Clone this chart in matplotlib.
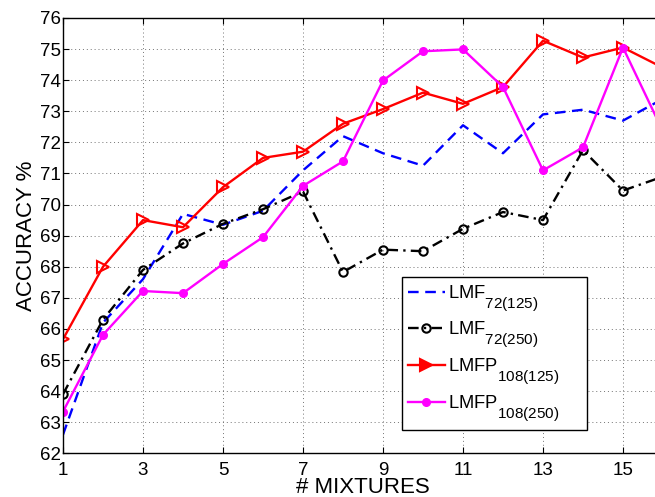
import matplotlib
matplotlib.use("Agg")
import matplotlib.pyplot as plt

plt.rcParams['font.family'] = ['Liberation Sans', 'DejaVu Sans']
plt.rcParams['mathtext.fontset'] = 'custom'
plt.rcParams['mathtext.rm'] = 'Liberation Sans'
plt.rcParams['mathtext.it'] = 'Liberation Sans'
plt.rcParams['mathtext.bf'] = 'Liberation Sans'

# larger, lower subscripts for the legend labels
try:
    import matplotlib._mathtext as _mt
    _mt.SHRINK_FACTOR = 0.83
    _mt.FontConstantsBase.sub1 = 1.05
except Exception:
    pass

mixtures = list(range(1, 17))

lmf_72_125 = [62.6, 66.2, 67.6, 69.7, 69.35, 69.8, 71.1, 72.2, 71.65, 71.25,
              72.55, 71.65, 72.9, 73.05, 72.7, 73.4]
lmf_72_250 = [63.9, 66.3, 67.9, 68.75, 69.38, 69.85, 70.42, 67.83, 68.55, 68.5,
              69.22, 69.76, 69.5, 71.75, 70.45, 70.9]
lmfp_108_125 = [65.67, 68.0, 69.5, 69.27, 70.56, 71.5, 71.7, 72.6, 73.07, 73.6,
                73.24, 73.78, 75.27, 74.73, 75.05, 74.4]
lmfp_108_250 = [63.34, 65.81, 67.22, 67.15, 68.09, 68.95, 70.6, 71.39, 73.99, 74.93,
                74.99, 73.78, 71.1, 71.84, 75.05, 72.35]

labels = [r'$\mathregular{LMF}_{\mathregular{72(125)}}$',
          r'$\mathregular{LMF}_{\mathregular{72(250)}}$',
          r'$\mathregular{LMFP}_{\mathregular{108(125)}}$',
          r'$\mathregular{LMFP}_{\mathregular{108(250)}}$']

x_ticks = [1, 3, 5, 7, 9, 11, 13, 15]
y_ticks = list(range(62, 77))

fig = plt.figure(figsize=(6.55, 4.97), dpi=100)
# axes run past the right edge of the figure, so the last column is cut off
ax = fig.add_axes([63 / 655, 43.7 / 497, 600 / 655, 435.3 / 497])

ax.plot(mixtures, lmf_72_125, color='#0000ff', linestyle=(0, (4.5, 2.8)),
        linewidth=1.7, label=labels[0])
ax.plot(mixtures, lmf_72_250, color='black', linestyle=(0, (4.5, 2.2, 1, 2.2)),
        linewidth=1.7, marker='o', markersize=6, markerfacecolor='none',
        markeredgewidth=1.5, label=labels[1])
ax.plot(mixtures, lmfp_108_125, color='#ff0000', linestyle='-', linewidth=1.7,
        marker='>', markersize=8, markerfacecolor='none', markeredgewidth=1.5,
        label=labels[2])
ax.plot(mixtures, lmfp_108_250, color='#ff00ff', linestyle='-', linewidth=1.7,
        marker='o', markersize=5.5, markerfacecolor='#ff00ff',
        markeredgecolor='#ff00ff', label=labels[3])

ax.set_xlim(1, 16)
ax.set_ylim(62, 76)
ax.set_xticks(x_ticks)
ax.set_yticks(y_ticks)
ax.tick_params(direction='in', length=4, width=0.8, labelsize=13.5,
               top=True, right=True)
ax.tick_params(axis='x', pad=6)
ax.tick_params(axis='y', pad=1.5)
ax.grid(True, linestyle=(0, (1, 3)), color='0.45', linewidth=0.7)
for s in ax.spines.values():
    s.set_linewidth(1.0)

ax.set_xlabel('# MIXTURES', fontsize=16, labelpad=-1)
ax.set_ylabel('ACCURACY %', fontsize=16, labelpad=2)

leg = ax.legend(loc='upper left', bbox_to_anchor=(0.5645, 0.052, 0.3085, 0.3526),
                mode='expand',
                fontsize=13.2, frameon=True, fancybox=False, edgecolor='black',
                framealpha=1, handlelength=2.0, handletextpad=0.2,
                labelspacing=0.35, borderpad=0.35, borderaxespad=0)
leg.get_frame().set_linewidth(1.0)
for h in leg.legend_handles:
    if h.get_marker() == '>':
        h.set_markerfacecolor('#ff0000')

fig.savefig('out.png', dpi=100)
